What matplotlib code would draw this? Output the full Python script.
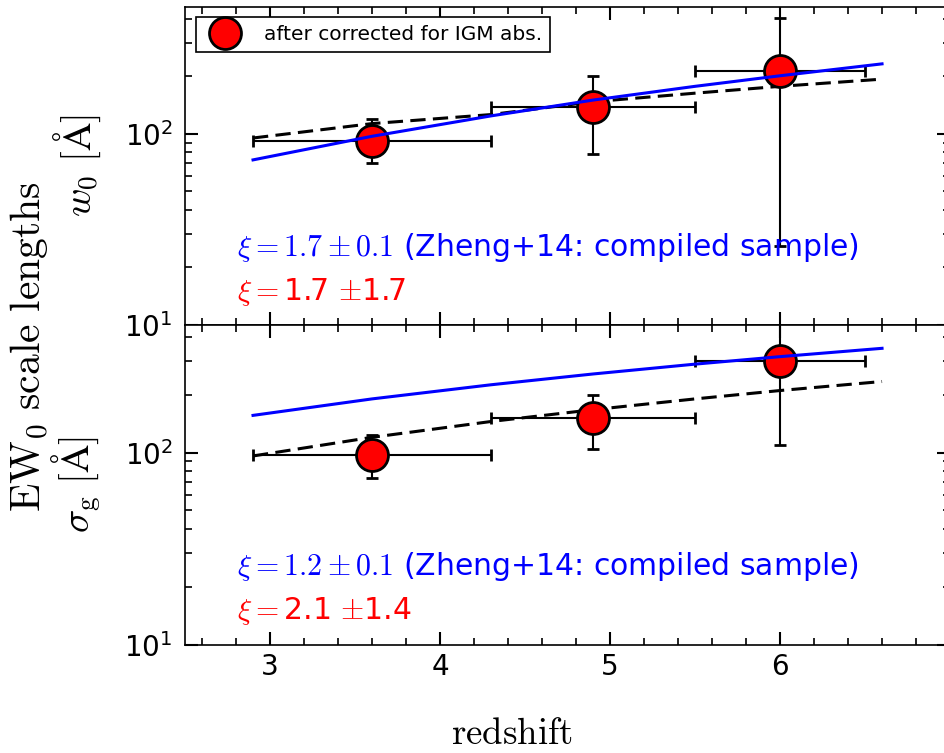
import matplotlib
matplotlib.use("Agg")
import matplotlib.pyplot as plt
from matplotlib.ticker import LogLocator, MultipleLocator, FixedLocator, NullFormatter

plt.rcParams['mathtext.fontset'] = 'cm'
plt.rcParams['font.family'] = 'DejaVu Sans'

# binned measurements (after IGM correction)
z_bin = [3.6, 4.9, 6.0]
z_lo = [2.9, 4.3, 5.5]
z_hi = [4.3, 5.5, 6.5]
w0 = [92, 138, 213]
w0_lo = [70, 78, 26]
w0_hi = [120, 200, 402]
sg = [97, 152, 300]
sg_lo = [74, 104, 110]
sg_hi = [124, 200, 480]

# fitted curves
z_fit = [2.9, 3.6, 4.3, 4.9, 5.5, 6.0, 6.6]
w0_zheng = [73, 97, 124, 150, 177, 201, 232]
w0_dash = [95, 113, 126, 147, 163, 177, 193]
sg_zheng = [156, 190, 225, 256, 288, 315, 348]
sg_dash = [96, 120, 145, 167, 190, 210, 234]

x_ticks = [3, 4, 5, 6]

fig = plt.figure(figsize=(9.44, 7.53), dpi=100)
ax1 = fig.add_axes([0.196, 0.5684, 0.8104, 0.4223])
ax2 = fig.add_axes([0.196, 0.1434, 0.8104, 0.425])


def draw_panel(ax, y, ylo, yhi, zheng, dash, txt_blue, txt_red, ylabel):
    xerr = [[z - lo for z, lo in zip(z_bin, z_lo)], [hi - z for z, hi in zip(z_bin, z_hi)]]
    yerr = [[v - lo for v, lo in zip(y, ylo)], [hi - v for v, hi in zip(y, yhi)]]
    ax.plot(z_fit, dash, color='black', lw=2.2, dashes=(5, 2.4), zorder=1)
    ax.errorbar(z_bin, y, xerr=xerr, yerr=yerr, fmt='o', ms=23, mfc='red', mec='black',
                mew=2, ecolor='black', elinewidth=1.5, capsize=4.5, capthick=2,
                zorder=2, label='after corrected for IGM abs.')
    ax.plot(z_fit, zheng, color='blue', lw=2.2, zorder=3)
    ax.set_yscale('log')
    ax.set_ylim(10, 460)
    ax.set_xlim(2.5, 7.0)
    ax.xaxis.set_major_locator(FixedLocator(x_ticks))
    ax.xaxis.set_minor_locator(MultipleLocator(0.2))
    ax.yaxis.set_minor_locator(LogLocator(subs=range(2, 10)))
    ax.yaxis.set_minor_formatter(NullFormatter())
    ax.tick_params(which='both', direction='in', top=True, right=True, labelsize=20)
    ax.tick_params(which='major', length=9.5, width=1.5)
    ax.tick_params(which='minor', length=5, width=1.2)
    ax.tick_params(axis='y', pad=9)
    ax.tick_params(axis='x', pad=6)
    for s in ax.spines.values():
        s.set_linewidth(1.2)
    ax.text(0.068, 0.245, txt_blue, color='blue', fontsize=21.5, transform=ax.transAxes, va='center')
    ax.text(0.068, 0.105, txt_red, color='red', fontsize=21.5, transform=ax.transAxes, va='center')
    ax.set_ylabel(ylabel, fontsize=28)
    ax.yaxis.set_label_coords(-0.107, 0.5)


draw_panel(ax1, w0, w0_lo, w0_hi, w0_zheng, w0_dash,
           r'$\xi=1.7\pm0.1$ (Zheng+14: compiled sample)', r'$\xi=$1.7 $\pm$1.7',
           r'$w_0\ [\mathrm{\AA}]$')
draw_panel(ax2, sg, sg_lo, sg_hi, sg_zheng, sg_dash,
           r'$\xi=1.2\pm0.1$ (Zheng+14: compiled sample)', r'$\xi=$2.1 $\pm$1.4',
           r'$\sigma_\mathrm{g}\ [\mathrm{\AA}]$')
ax1.tick_params(labelbottom=False)

handles, labels = ax1.get_legend_handles_labels()
leg = ax1.legend(handles, labels, loc='upper left', bbox_to_anchor=(0.014, 0.968),
                 borderaxespad=0, fontsize=14.5, fancybox=False, framealpha=1,
                 edgecolor='black', handlelength=2.1, handletextpad=0.9, borderpad=0.4)
leg.get_frame().set_linewidth(1.2)

fig.text(0.031, 1 - 347 / 753, r'$\mathrm{EW_0\ scale\ lengths}$', rotation=90,
         fontsize=30, ha='center', va='center')
fig.text(512 / 944, 1 - 733 / 753, r'$\mathrm{redshift}$', fontsize=26.5, ha='center', va='center')

fig.savefig('out.png', dpi=100)
